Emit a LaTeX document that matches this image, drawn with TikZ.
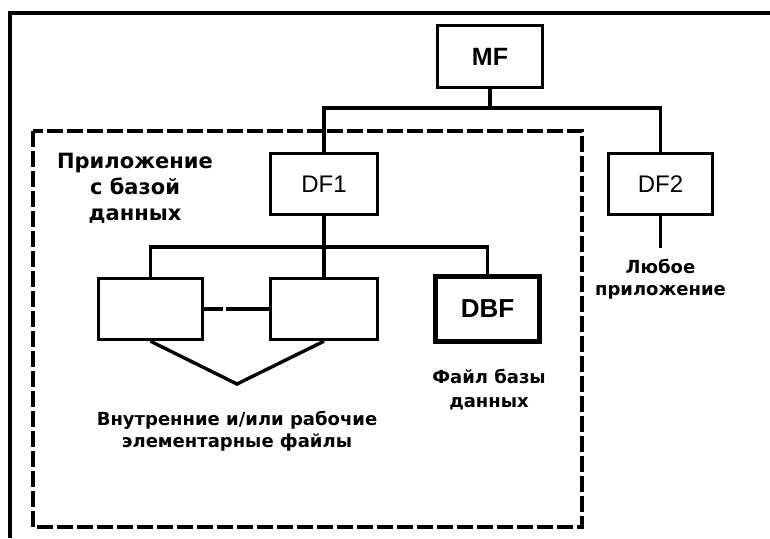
\documentclass[tikz,border=0pt]{standalone}
\usepackage{fontspec}
\setmainfont{Liberation Sans}
\newfontfamily\labfont{DejaVu Sans}
\begin{document}
\begin{tikzpicture}[x=1pt,y=-1pt,
  box/.style={draw,line width=3.4pt,inner sep=0pt,font=\fontsize{24}{28}\selectfont},
  thickbox/.style={box,line width=5pt,font=\bfseries\fontsize{26}{30}\selectfont},
  conn/.style={line width=3.4pt},
  frameline/.style={line width=3.2pt},
  appframe/.style={line width=3.4pt,dash pattern=on 16pt off 4pt},
  lab/.style={align=center,inner sep=0pt,font=\labfont\bfseries\fontsize{18}{22}\selectfont}]
\fill[white] (0,0) rectangle (770,538);
\useasboundingbox (0,0) rectangle (770,538);
% outer frame
\draw[frameline] (10,538) -- (10,13) -- (770,13);
% application frame
\draw[appframe] (33,131) rectangle (582,527);
% boxes
\node[box,minimum width=105pt,minimum height=62pt,font=\bfseries\fontsize{25}{30}\selectfont] (mf) at (490,56.5) {MF};
\node[box,minimum width=107pt,minimum height=61pt] (df1) at (324,184) {DF1};
\node[box,minimum width=104pt,minimum height=61pt] (df2) at (660.5,184) {DF2};
\node[box,minimum width=104pt,minimum height=61pt] (b1) at (150.5,309) {};
\node[box,minimum width=107pt,minimum height=61pt] (b2) at (324,309) {};
\node[thickbox,minimum width=104pt,minimum height=65pt] (dbf) at (487.5,309) {DBF};
% connectors
\coordinate (bus1) at (490,108);
\draw[conn] (mf.south) -- (bus1);
\draw[conn] (df1.north) |- (bus1) -| (df2.north);
\coordinate (bus2) at (324,247);
\draw[conn] (df1.south) -- (bus2);
\draw[conn] (b1.north) |- (bus2) -| (dbf.north);
\draw[conn] (b2.north) -- (bus2);
\draw[conn,dash pattern=on 19pt off 3pt on 200pt off 0pt] (b1.east) -- (b2.west);
\coordinate (apex) at (237,384);
\draw[conn] (b1.south) -- (apex) -- (b2.south);
\coordinate (df2end) at (660.5,248);
\draw[conn] (df2.south) -- (df2end);
% labels
\node[lab,anchor=base,font=\labfont\bfseries\fontsize{21}{26}\selectfont] (applab) at (135,220) {Приложение\\с базой\\данных};
\node[lab,anchor=base] (intlab) at (237,447) {Внутренние и/или рабочие\\элементарные файлы};
\node[lab,anchor=base,font=\labfont\bfseries\fontsize{18}{24}\selectfont] (dbflab) at (489,407) {Файл базы\\данных};
\node[lab,anchor=base] (anylab) at (660.5,295) {Любое\\приложение};
\end{tikzpicture}
\end{document}
